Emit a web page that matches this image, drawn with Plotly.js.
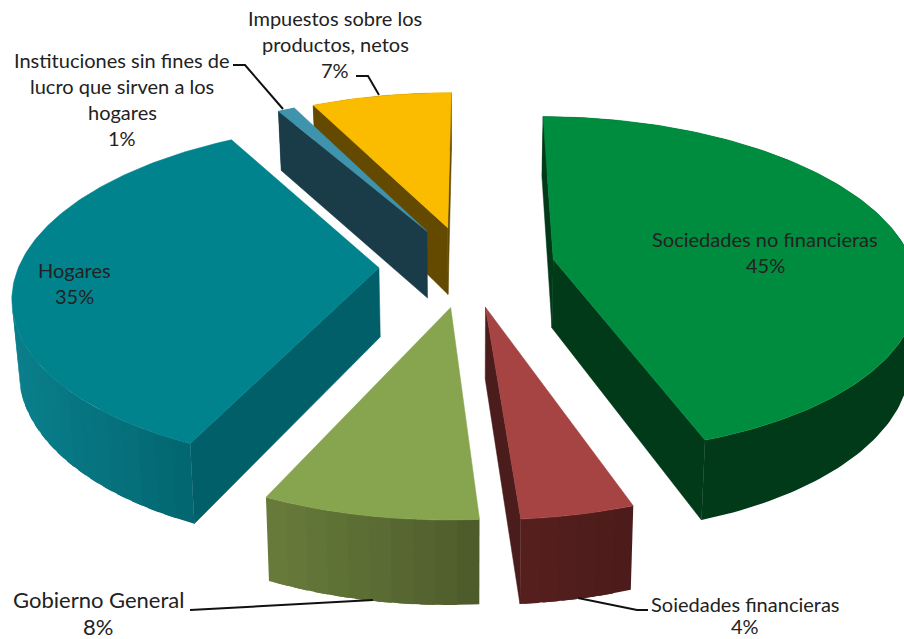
<!DOCTYPE html>
<html><head><meta charset="utf-8">
<script src="https://cdn.plot.ly/plotly-3.0.1.min.js"></script>
<style>html,body{margin:0;padding:0;background:#fff}#c{width:904px;height:639px}</style>
</head><body><div id="c"></div>
<script>
// Data
const categories = ["Sociedades no financieras","Soiedades financieras","Gobierno General","Hogares","Instituciones sin fines de lucro que sirven a los hogares","Impuestos sobre los productos, netos"];
const shares = [44.6,4.2,8,34.9,0.9,7.4];
// Styles
const topColors = ["#008C3E","#A54442","#87A44E","#00838C","#3F93AC","#FBBC00"];
const cutColors = ["#003A18","#4A1C1B","#66793A","#005F68","#1A3C49","#634A00"];
const wallLeft  = ["#003A18","#561F1E","#687C3B","#0A7F8C","#1A3C49","#634A00"];
const wallRight = ["#003A18","#491B1A","#4B592A","#005F68","#1A3C49","#634A00"];
const drawOrder = [5,4,3,0,1,2];
// Projection of the tilted pie
const startDeg=0.2, cx=467, cy=266, R=360, explode=88, tilt=0.4618, persp=0.1516, H=69, shrink=0.985;
const rad=d=>d*Math.PI/180;
function project(mid,theta,radius,low){
  const X=explode*Math.sin(rad(mid))+radius*Math.sin(rad(theta));
  const Z=explode*Math.cos(rad(mid))+radius*Math.cos(rad(theta));
  const s=1/(1+Z*persp/R);
  return low?[cx+X*s*shrink,cy-Z*tilt*s+H*s]:[cx+X*s,cy-Z*tilt*s];
}
function mix(a,b,t){
  const p=h=>[1,3,5].map(i=>parseInt(h.substr(i,2),16)),A=p(a),B=p(b);
  return "rgb("+A.map((v,i)=>Math.round(v+(B[i]-v)*t)).join(",")+")";
}
function area(poly){let s=0;poly.forEach((p,i)=>{const q=poly[(i+1)%poly.length];s+=p[0]*q[1]-q[0]*p[1];});return s;}
function polyTrace(poly,color,w){
  const c=poly.concat([poly[0]]);
  return {type:"scatter",mode:"lines",x:c.map(p=>p[0]),y:c.map(p=>p[1]),fill:"toself",fillcolor:color,
    line:{color:color,width:w},hoverinfo:"skip",showlegend:false};
}
const total=shares.reduce((a,b)=>a+b,0);
let acc=startDeg; const spans=shares.map(v=>{const a=acc;acc+=v/total*360;return [a,acc];});
const traces=[];
drawOrder.forEach(i=>{
  const [a0,a1]=spans[i],mid=(a0+a1)/2;
  const apex=project(mid,0,0,false),apexL=project(mid,0,0,true);
  const arc=(from,to,low)=>{const n=Math.max(1,Math.ceil(Math.abs(to-from)));const o=[];
    for(let j=0;j<=n;j++)o.push(project(mid,from+(to-from)*j/n,R,low));return o;};
  // cut faces
  [[apex,project(mid,a0,R,false),project(mid,a0,R,true),apexL],
   [project(mid,a1,R,false),apex,apexL,project(mid,a1,R,true)]].forEach(q=>{
     if(area(q)<0)traces.push(polyTrace(q,cutColors[i],0.5));});
  // outer wall, in overlapping shaded bands
  const band=wallLeft[i]===wallRight[i]?(a1-a0):3,nb=Math.max(1,Math.ceil((a1-a0)/band));
  const xsAll=arc(a0,a1,false).map(p=>p[0]);const xMin=Math.min(...xsAll),xMax=Math.max(...xsAll);
  for(let b=0;b<nb;b++){
    const f=a0+(a1-a0)*b/nb,t=Math.min(a1,a0+(a1-a0)*(b+1)/nb+2);
    const top=arc(f,t,false),low=arc(f,t,true).reverse();
    const q=top.concat(low);
    const side=area(arc(f,a0+(a1-a0)*(b+1)/nb,false).concat(arc(f,a0+(a1-a0)*(b+1)/nb,true).reverse()));
    if(side<0||nb===1){
      const xm=(top[0][0]+top[top.length-1][0])/2;
      traces.push(polyTrace(q,mix(wallLeft[i],wallRight[i],(xm-xMin)/Math.max(1,xMax-xMin)),0));
    }
  }
  traces.push(polyTrace([apex].concat(arc(a0,a1,false)),topColors[i],0.5));
});
// Labels: text lines, centre x, first line y, line spacing
const pct=shares.map(v=>Math.round(v/total*100)+"%");
const labels=[
 [["Impuestos sobre los","productos, netos",pct[5]],335,18,26,20],
 [["Instituciones sin fines de","lucro que sirven a los","hogares",pct[4]],122,60,26,20],
 [["Hogares",pct[3]],74,270,26,20],
 [["Sociedades no financieras",pct[0]],765,239,26,20],
 [["Gobierno General",pct[2]],98,599,27,22],
 [["Soiedades financieras",pct[1]],745,604,22,20]
];
const annotations=[];
labels.forEach(([lines,x,y,dy,size])=>lines.forEach((t,k)=>annotations.push({
  text:t,x:x,y:y+k*dy,xref:"x",yref:"y",showarrow:false,xanchor:"center",yanchor:"middle",
  font:{family:"Lato, sans-serif",size:size,color:"#222"}})));
const leaders=[
 [[233,245,283],[65,65,109]],
 [[356,368,379],[76,76,95]],
 [[190,373],[610,600]],
 [[578,637,648],[598,610,610]]
];
leaders.forEach(l=>traces.push({type:"scatter",mode:"lines",x:l[0],y:l[1],line:{color:"#111",width:2},hoverinfo:"skip",showlegend:false}));
const axis={visible:false,fixedrange:true,showgrid:false,zeroline:false};
Plotly.newPlot("c",traces,{
  width:904,height:639,margin:{l:0,r:0,t:0,b:0},paper_bgcolor:"#fff",plot_bgcolor:"#fff",showlegend:false,
  xaxis:Object.assign({range:[0,904]},axis),yaxis:Object.assign({range:[639,0]},axis),annotations:annotations
},{displayModeBar:false,staticPlot:true});
</script></body></html>
